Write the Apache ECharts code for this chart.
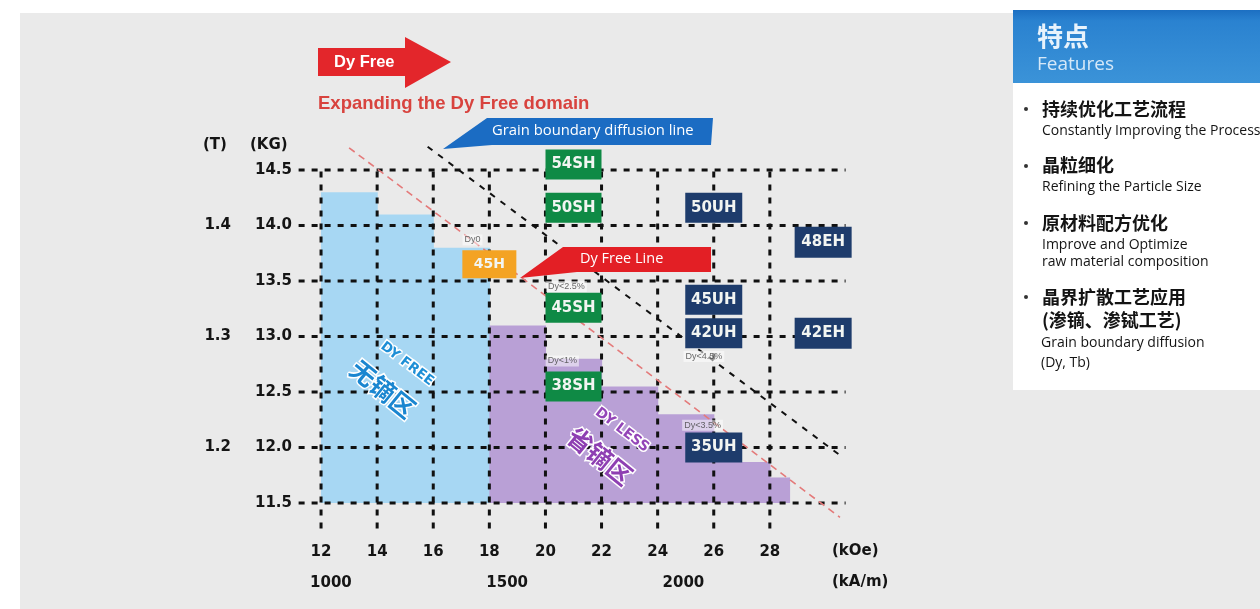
<!DOCTYPE html>
<html>
<head>
<meta charset="utf-8">
<title>Expanding the Dy Free domain</title>
<script src="https://cdn.jsdelivr.net/npm/echarts@6/dist/echarts.min.js"></script>
<style>
html,body{margin:0;padding:0;background:#fff;}
#chart{width:1260px;height:609px;}
</style>
</head>
<body>
<div id="chart"></div>
<script>
// Coercivity Hcj ticks (kOe) and SI counterparts (kA/m)
const hcjTicks = [12, 14, 16, 18, 20, 22, 24, 26, 28];
const hcjSITicks = [1000, 1500, 2000];
// Remanence Br ticks (kG) and tesla ticks
const brTicks = [11.5, 12.0, 12.5, 13.0, 13.5, 14.0, 14.5];
const brTeslaTicks = [1.2, 1.3, 1.4];

// Dy-free domain steps: [Hcj from, Hcj to, Br top]
const dyFreeSteps = [[12, 14, 14.3], [14, 16, 14.1], [16, 18, 13.8]];
// Dy-less domain steps: [Hcj from, Hcj to, Br top]
const dyLessSteps = [[18, 20, 13.1], [20, 22, 12.8], [22, 24, 12.55], [24, 26, 12.3], [26, 28, 11.87], [28, 28.7, 11.73]];

// Grades: [name, Hcj kOe, Br kG]
const shGrades = [['54SH', 21, 14.55], ['50SH', 21, 14.16], ['45SH', 21, 13.26], ['38SH', 21, 12.55]];
const hGrades = [['45H', 18, 13.65]];
const uhGrades = [['50UH', 26, 14.16], ['45UH', 26, 13.33], ['42UH', 26, 13.03], ['35UH', 26, 12.0]];
const ehGrades = [['48EH', 29.9, 13.85], ['42EH', 29.9, 13.03]];

// Dy content notes: [text, Hcj kOe, Br kG]
const dyNotes = [['Dy0', 17.4, 13.87], ['Dy<2.5%', 20.75, 13.45], ['Dy<1%', 20.6, 12.78], ['Dy<4.5%', 25.65, 12.82], ['Dy<3.5%', 25.6, 12.2]];

// Boundary lines: end points [Hcj kOe, Br kG]
const dyFreeLine = [[13.0, 14.7], [30.5, 11.37]];
const gbdLine = [[15.8, 14.71], [30.5, 11.93]];

const KAM_PER_KOE = 79.5775;
// Extent of the dotted guide lines
const H_SPAN = [11.2, 30.7];
const V_SPAN = [11.27, 14.55];

const AX_FONT = 'DejaVu Sans';
const TXT_FONT = 'Liberation Sans';
const CJK = '"Noto Sans CJK SC"';

function stepSeries(steps, color) {
  return {
    type: 'custom', z: 2, silent: true, clip: false,
    data: steps, encode: { x: [0, 1], y: 2 },
    renderItem: (p, api) => {
      const a = api.coord([api.value(0), api.value(2)]);
      const b = api.coord([api.value(1), brTicks[0]]);
      return { type: 'rect', shape: { x: a[0], y: a[1], width: b[0] - a[0] + 0.6, height: b[1] - a[1] }, style: { fill: color } };
    }
  };
}

const guideData = [
  ...brTicks.map(v => [H_SPAN[0], v, H_SPAN[1], v]),
  ...hcjTicks.map(v => [v, V_SPAN[0], v, V_SPAN[1]])
];

function gradeSeries(list, color, size, fontSize) {
  return {
    type: 'scatter', z: 6, silent: true, symbol: 'rect', symbolSize: size,
    data: list.map(g => ({ value: [g[1], g[2]], name: g[0] })),
    itemStyle: { color: color, opacity: 1 },
    label: { show: true, position: 'inside', formatter: '{b}', color: '#f2f5f2', fontWeight: 'bold', fontSize: fontSize, fontFamily: 'DejaVu Sans' }
  };
}

function lineSeries(pts, color, width, dash) {
  return {
    type: 'line', z: 4, silent: true, symbol: 'none', data: pts,
    lineStyle: { color: color, width: width, type: dash }
  };
}

function txt(x, y, text, size, opts) {
  const o = opts || {};
  return {
    type: 'text', z: o.z || 10, silent: true, x: x, y: y, rotation: o.rotation || 0,
    style: {
      text: text, fontSize: size, fontWeight: o.weight || 'normal', fontFamily: o.font || TXT_FONT,
      fill: o.fill || '#141414', stroke: o.stroke, lineWidth: o.lineWidth || 0, letterSpacing: o.spacing || 0,
      textAlign: o.align || 'left', align: o.align || 'left',
      textVerticalAlign: 'middle', verticalAlign: 'middle'
    }
  };
}

const chart = echarts.init(document.getElementById('chart'), null, { renderer: 'canvas' });

const axisText = { fontSize: 15, fontWeight: 'bold', color: '#151515', fontFamily: AX_FONT };

const option = {
  backgroundColor: '#ffffff',
  animation: false,
  grid: { left: 293, top: 114.5, width: 561, height: 444, containLabel: false },
  xAxis: [
    {
      type: 'value', min: 11, max: 31, position: 'bottom', offset: -18,
      axisLine: { show: false }, axisTick: { show: false }, splitLine: { show: false },
      axisLabel: Object.assign({ customValues: hcjTicks, margin: 4 }, axisText)
    },
    {
      type: 'value', min: 11, max: 31, position: 'bottom', offset: 13,
      axisLine: { show: false }, axisTick: { show: false }, splitLine: { show: false },
      axisLabel: Object.assign({
        customValues: hcjSITicks.map(v => v / KAM_PER_KOE), margin: 4,
        formatter: v => String(Math.round(v * KAM_PER_KOE)),
        padding: [0, 12, 0, 0]
      }, axisText)
    }
  ],
  yAxis: [
    {
      type: 'value', min: 11, max: 15, position: 'left',
      axisLine: { show: false }, axisTick: { show: false }, splitLine: { show: false },
      axisLabel: Object.assign({ customValues: brTicks, formatter: v => v.toFixed(1), margin: 1 }, axisText)
    },
    {
      type: 'value', min: 11, max: 15, position: 'left', offset: 60,
      axisLine: { show: false }, axisTick: { show: false }, splitLine: { show: false },
      axisLabel: Object.assign({ customValues: brTeslaTicks.map(t => t * 10), formatter: v => (v / 10).toFixed(1), margin: 2 }, axisText)
    }
  ],
  series: [
    stepSeries(dyFreeSteps, '#a7d7f3'),
    stepSeries(dyLessSteps, '#b9a0d6'),
    {
      type: 'custom', z: 3, silent: true, clip: false,
      data: guideData, encode: { x: [0, 2], y: [1, 3] },
      renderItem: (p, api) => {
        const a = api.coord([api.value(0), api.value(1)]);
        const b = api.coord([api.value(2), api.value(3)]);
        return { type: 'line', shape: { x1: a[0], y1: a[1], x2: b[0], y2: b[1] }, style: { stroke: '#111', lineWidth: 3, lineDash: [6, 7] } };
      }
    },
    lineSeries(dyFreeLine, '#e47a7a', 1.6, [7, 5]),
    lineSeries(gbdLine, '#111', 2, [6, 7]),
    gradeSeries(shGrades, '#0f8a45', [56, 30], 15),
    gradeSeries(hGrades, '#f4a323', [54, 28], 14),
    gradeSeries(uhGrades, '#1e3c6c', [57, 30], 15),
    gradeSeries(ehGrades, '#1e3c6c', [57, 31], 15),
    {
      type: 'scatter', z: 7, silent: true, symbolSize: 1,
      data: dyNotes.map(n => ({ value: [n[1], n[2]], name: n[0] })),
      itemStyle: { color: 'rgba(0,0,0,0)' },
      label: { show: true, position: 'inside', formatter: '{b}', fontSize: 9, color: '#444', fontFamily: TXT_FONT, backgroundColor: 'rgba(255,255,255,0.65)', padding: [1, 2] }
    }
  ],
  graphic: [
    // background panels
    { type: 'rect', z: 0, silent: true, shape: { x: 20, y: 13, width: 1240, height: 596 }, style: { fill: '#eaeaea' } },
    { type: 'rect', z: 0, silent: true, shape: { x: 1013, y: 10, width: 247, height: 380 }, style: { fill: '#ffffff' } },
    { type: 'rect', z: 0, silent: true, shape: { x: 1013, y: 10, width: 247, height: 73 },
      style: { fill: new echarts.graphic.LinearGradient(0, 0, 0, 1, [{ offset: 0, color: '#1c6fc2' }, { offset: 0.15, color: '#2a82d0' }, { offset: 1, color: '#3b93d8' }]) } },

    // axis units
    txt(203, 145, '(T)', 15, { weight: 'bold', font: AX_FONT }),
    txt(250, 145, '(KG)', 15, { weight: 'bold', font: AX_FONT }),
    txt(832, 551, '(kOe)', 15, { weight: 'bold', font: AX_FONT }),
    txt(832, 582, '(kA/m)', 15, { weight: 'bold', font: AX_FONT }),

    // Dy Free arrow
    { type: 'polygon', z: 10, silent: true, shape: { points: [[318, 48], [405, 48], [405, 37], [451, 62], [405, 88], [405, 76], [318, 76]] }, style: { fill: '#e3262b' } },
    txt(334, 62, 'Dy Free', 16.5, { weight: 'bold', fill: '#ffffff', z: 11 }),
    txt(318, 104, 'Expanding the Dy Free domain', 18.5, { weight: 'bold', fill: '#d8433e' }),

    // callouts
    { type: 'polygon', z: 10, silent: true, shape: { points: [[487, 118], [713, 118], [711, 145], [492, 145], [443, 149]] }, style: { fill: '#1b6cc3' } },
    txt(492, 131, 'Grain boundary diffusion line', 14.8, { font: 'Open Sans', fill: '#ffffff', z: 11 }),
    { type: 'polygon', z: 10, silent: true, shape: { points: [[563, 247], [711, 247], [711, 272], [577, 272], [520, 278]] }, style: { fill: '#e31f25' } },
    txt(580, 259, 'Dy Free Line', 14.5, { font: 'Open Sans', fill: '#ffffff', z: 11 }),

    // domain captions
    txt(407, 364, 'DY FREE', 13.5, { z: 5, rotation: -0.65, weight: 'bold', font: 'DejaVu Sans', fill: '#1e8fd6', stroke: '#ffffff', lineWidth: 3, spacing: 2, align: 'center' }),
    txt(383, 389, '无镝区', 25, { z: 5, rotation: -0.68, weight: 'bold', font: CJK, fill: '#1a86d0', stroke: '#ffffff', lineWidth: 3, align: 'center' }),
    txt(622, 430, 'DY LESS', 14, { z: 5, rotation: -0.65, weight: 'bold', font: 'DejaVu Sans', fill: '#9446b8', stroke: '#ffffff', lineWidth: 3, spacing: 2.5, align: 'center' }),
    txt(600, 456, '省镝区', 25, { z: 5, rotation: -0.68, weight: 'bold', font: CJK, fill: '#8e3fb2', stroke: '#ffffff', lineWidth: 3, align: 'center' }),

    // features panel
    txt(1037, 36, '特点', 26, { weight: 'bold', font: CJK, fill: '#e8f3fc' }),
    txt(1037, 65, 'Features', 19, { font: 'Open Sans', fill: '#d5e8f8' }),

    { type: 'circle', z: 10, silent: true, shape: { cx: 1026, cy: 109, r: 2 }, style: { fill: '#333' } },
    txt(1042, 109, '持续优化工艺流程', 18, { weight: 'bold', font: CJK }),
    txt(1042, 131, 'Constantly Improving the Process', 14, { font: 'Open Sans' }),

    { type: 'circle', z: 10, silent: true, shape: { cx: 1026, cy: 166, r: 2 }, style: { fill: '#333' } },
    txt(1042, 165, '晶粒细化', 18, { weight: 'bold', font: CJK }),
    txt(1042, 187, 'Refining the Particle Size', 14, { font: 'Open Sans' }),

    { type: 'circle', z: 10, silent: true, shape: { cx: 1026, cy: 223, r: 2 }, style: { fill: '#333' } },
    txt(1042, 223, '原材料配方优化', 18, { weight: 'bold', font: CJK }),
    txt(1042, 245, 'Improve and Optimize', 14, { font: 'Open Sans' }),
    txt(1042, 262, 'raw material composition', 14, { font: 'Open Sans' }),

    { type: 'circle', z: 10, silent: true, shape: { cx: 1026, cy: 297, r: 2 }, style: { fill: '#333' } },
    txt(1042, 297, '晶界扩散工艺应用', 18, { weight: 'bold', font: CJK }),
    txt(1042, 320, '(渗镝、渗铽工艺)', 18, { weight: 'bold', font: CJK }),
    txt(1041, 343, 'Grain boundary diffusion', 14, { font: 'Open Sans' }),
    txt(1041, 363, '(Dy, Tb)', 14, { font: 'Open Sans' })
  ]
};

chart.setOption(option);
</script>
</body>
</html>
